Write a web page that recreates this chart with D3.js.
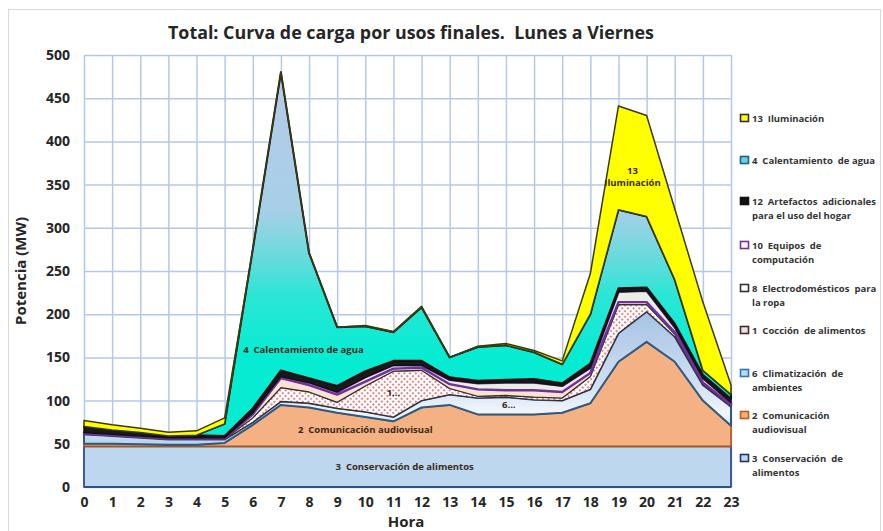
<!DOCTYPE html>
<html>
<head>
<meta charset="utf-8">
<script src="https://cdn.jsdelivr.net/npm/d3@7"></script>
<style>
  body { margin: 0; background: #fff; }
  text { font-family: "Open Sans", "DejaVu Sans", sans-serif; font-weight: bold; white-space: pre; }
</style>
</head>
<body>
<div id="chart"></div>
<script>
// horas del dia
var hours = [0, 1, 2, 3, 4, 5, 6, 7, 8, 9, 10, 11, 12, 13, 14, 15, 16, 17, 18, 19, 20, 21, 22, 23];
var yTicks = [0, 50, 100, 150, 200, 250, 300, 350, 400, 450, 500];

// potencia por uso final (MW)
var conservacion   = [47, 47, 47, 47, 47, 47, 47, 47, 47, 47, 47, 47, 47, 47, 47, 47, 47, 47, 47, 47, 47, 47, 47, 47];
var comunicacion   = [3, 3, 2.5, 2, 2, 4, 25, 48, 45, 39, 34, 29, 45, 48, 37, 37, 37, 39, 50, 98, 121, 98, 53, 24];
var climatizacion  = [11, 9, 7.5, 6, 6, 4, 3, 4, 5, 5, 6, 5, 8, 12, 19, 20, 17, 14, 16, 33, 35, 29, 18, 22];
var coccion        = [0.5, 0.5, 0.5, 0.5, 0.5, 0.5, 5, 16, 13, 7, 30, 53, 35, 7, 2, 2, 3, 3, 15, 33, 8, 3, 2, 1];
var ropa           = [0.5, 0.5, 0.5, 0.5, 0.5, 0.5, 4, 11, 8, 9, 5, 3, 3, 5, 8, 6, 8, 7, 4, 3, 3, 2, 1, 1];
var computacion    = [1, 1, 1, 1, 1, 1, 2, 2, 3, 3, 5, 4, 3, 5, 7, 9, 9, 7, 6, 12, 13, 6, 5, 3];
var artefactos     = [7, 5, 4, 2, 3, 2, 5, 7, 5, 7, 7, 5, 5, 3, 3, 3, 4, 3, 5, 4, 4, 4, 4, 4];
var calentamiento  = [0, 0, 0, 0, 0, 14, 184, 345, 145, 68, 52, 33, 62, 23, 39, 40, 31, 22, 57, 91, 82, 51, 5, 5];
var iluminacion    = [7, 6, 5, 4.5, 5, 7, 0, 0, 0, 0, 1, 1, 1, 0, 1, 2, 2, 4, 47, 120, 117, 82, 79, 11];

// orden de apilado (abajo -> arriba)
var series = [
    {key: "s3",  values: conservacion,  fill: "#bdd7ee",          stroke: "#2f4f8f", sw: 1.8, legend: ["3  Conservación  de", "alimentos"]},
    {key: "s2",  values: comunicacion,  fill: "#f4b183",          stroke: "#b5520f", sw: 1.6, legend: ["2  Comunicación", "audiovisual"]},
    {key: "s6",  values: climatizacion, fill: "url(#gradClima)",  stroke: "#2b5a86", sw: 2,   legend: ["6  Climatización  de", "ambientes"]},
    {key: "s1",  values: coccion,       fill: "url(#dots)",       stroke: "#3a2a2a", sw: 1.2, legend: ["1  Cocción  de alimentos"]},
    {key: "s8",  values: ropa,          fill: "#fbe3d2",          stroke: "#333333", sw: 1.2, legend: ["8  Electrodomésticos  para", "la ropa"]},
    {key: "s10", values: computacion,   fill: "#e8efe2",          stroke: "#7030a0", sw: 2.4, legend: ["10  Equipos  de", "computación"]},
    {key: "s12", values: artefactos,    fill: "#1a1a1a",          stroke: "#111111", sw: 1.5, legend: ["12  Artefactos  adicionales", "para el uso del hogar"]},
    {key: "s4",  values: calentamiento, fill: "url(#gradAgua)",   stroke: "#111111", sw: 2,   legend: ["4  Calentamiento  de agua"]},
    {key: "s13", values: iluminacion,   fill: "#ffff00",          stroke: "#3a3a10", sw: 1.5, legend: ["13  Iluminación"]}
];

// marcadores de leyenda (arriba -> abajo)
var legendY = [118, 160, 201, 245, 288, 330, 373, 415, 458];
var legendMarks = {
    s13: {fill: "#ffff00", stroke: "#333"},
    s4:  {fill: "#5fd8e0", stroke: "#2b5a86"},
    s12: {fill: "#111", stroke: "#111"},
    s10: {fill: "#fff", stroke: "#7030a0"},
    s8:  {fill: "#fff", stroke: "#333"},
    s1:  {fill: "#f8dede", stroke: "#333"},
    s6:  {fill: "#bdd7ee", stroke: "#2e75b6"},
    s2:  {fill: "#f4b183", stroke: "#c55a11"},
    s3:  {fill: "#bdd7ee", stroke: "#1f3864"}
};

function init(){
    var w = 883;
    var h = 531;

    var x = d3.scaleLinear()
                .domain([0, 23])
                .range([84, 731]);

    var y = d3.scaleLinear()
                .domain([0, 500])
                .range([487, 55]);

    var svg = d3.select("#chart")
                .append("svg")
                .attr("width", w)
                .attr("height", h);

    var defs = svg.append("defs");

    // relleno punteado para coccion
    var pat = defs.append("pattern")
        .attr("id", "dots")
        .attr("patternUnits", "userSpaceOnUse")
        .attr("width", 4)
        .attr("height", 4)
        .attr("patternTransform", "rotate(45)");
    pat.append("rect").attr("width", 4).attr("height", 4).attr("fill", "#fff");
    pat.append("circle").attr("cx", 2).attr("cy", 2).attr("r", 1).attr("fill", "#e0585c");

    // degradado del calentamiento de agua
    var gA = defs.append("linearGradient")
        .attr("id", "gradAgua")
        .attr("gradientUnits", "userSpaceOnUse")
        .attr("x1", 0).attr("x2", 0)
        .attr("y1", y(480)).attr("y2", y(150));
    [[0, "#b6c9ea"], [0.48, "#a7d0e7"], [0.64, "#6cd9de"], [0.78, "#2ce6d6"], [1, "#05ecd2"]].forEach(function(s) {
        gA.append("stop").attr("offset", s[0]).attr("stop-color", s[1]);
    });

    // degradado de climatizacion
    var gC = defs.append("linearGradient")
        .attr("id", "gradClima")
        .attr("gradientUnits", "userSpaceOnUse")
        .attr("x1", 0).attr("x2", 0)
        .attr("y1", y(205)).attr("y2", y(48));
    [[0, "#a5c2e4"], [0.55, "#d0e0f2"], [0.76, "#f1f6fc"], [0.9, "#cfe0f2"], [1, "#b6cfea"]].forEach(function(s) {
        gC.append("stop").attr("offset", s[0]).attr("stop-color", s[1]);
    });

    // marco exterior
    svg.append("rect")
        .attr("x", 8.5).attr("y", 9.5)
        .attr("width", 872).attr("height", 530)
        .attr("fill", "none")
        .attr("stroke", "#d9d9d9");

    // rejilla
    svg.append("g")
        .attr("transform", "translate(0, 55)")
        .call(d3.axisBottom(x).tickValues(hours).tickSize(487 - 55).tickFormat(""))
        .call(function(g) {
            g.select(".domain").remove();
            g.selectAll("line").attr("stroke", "#b4c9e6").attr("stroke-width", 1.5);
        });

    svg.append("g")
        .attr("transform", "translate(84, 0)")
        .call(d3.axisRight(y).tickValues(yTicks).tickSize(731 - 84).tickFormat(""))
        .call(function(g) {
            g.select(".domain").remove();
            g.selectAll("line").attr("stroke", "#b4c9e6").attr("stroke-width", 1.5);
        });

    // datos apilados
    var table = hours.map(function(hr, i) {
        var row = {hour: hr};
        series.forEach(function(s) { row[s.key] = s.values[i]; });
        return row;
    });

    var stack = d3.stack().keys(series.map(function(s) { return s.key; }));
    var layers = stack(table);

    var area = d3.area()
        .x(function(d) { return x(d.data.hour); })
        .y0(function(d) { return y(d[0]); })
        .y1(function(d) { return y(d[1]); });

    svg.selectAll("path.layer")
        .data(layers)
        .enter()
        .append("path")
        .attr("class", "layer")
        .attr("d", area)
        .attr("fill", function(d, i) { return series[i].fill; })
        .attr("stroke", function(d, i) { return series[i].stroke; })
        .attr("stroke-width", function(d, i) { return series[i].sw; })
        .attr("stroke-linejoin", "round");

    // etiquetas dentro del grafico
    var inner = [
        {t: "13", hx: 19.5, v: 362},
        {t: "Iluminación", hx: 19.5, v: 348},
        {t: "4  Calentamiento de agua", hx: 7.8, v: 155},
        {t: "1...", hx: 11.0, v: 105},
        {t: "6...", hx: 15.1, v: 92},
        {t: "2  Comunicación audiovisual", hx: 10.0, v: 62},
        {t: "3  Conservación de alimentos", hx: 11.4, v: 20}
    ];
    svg.selectAll("text.inner")
        .data(inner)
        .enter()
        .append("text")
        .attr("class", "inner")
        .attr("x", function(d) { return x(d.hx); })
        .attr("y", function(d) { return y(d.v); })
        .attr("text-anchor", "middle")
        .attr("font-size", 9.5)
        .attr("fill", "#3a2a1a")
        .text(function(d) { return d.t; });

    // ejes
    var yAxis = d3.axisLeft(y).tickValues(yTicks).tickSize(0).tickPadding(14);
    svg.append("g")
        .attr("transform", "translate(84, 0)")
        .call(yAxis)
        .call(function(g) {
            g.select(".domain").remove();
            g.selectAll("text").attr("font-size", 14).attr("fill", "#262626")
                .style("font-family", "'Open Sans', sans-serif").style("font-weight", "bold");
        });

    var xAxis = d3.axisBottom(x).tickValues(hours).tickSize(0).tickPadding(10);
    svg.append("g")
        .attr("transform", "translate(0, 487)")
        .call(xAxis)
        .call(function(g) {
            g.select(".domain").remove();
            g.selectAll("text").attr("font-size", 14).attr("fill", "#262626")
                .style("font-family", "'Open Sans', sans-serif").style("font-weight", "bold");
        });

    // titulos
    svg.append("text")
        .attr("x", 411)
        .attr("y", 39)
        .attr("text-anchor", "middle")
        .attr("font-size", 17)
        .attr("fill", "#262626")
        .attr("textLength", 486)
        .attr("lengthAdjust", "spacingAndGlyphs")
        .text("Total: Curva de carga por usos finales.  Lunes a Viernes");

    svg.append("text")
        .attr("transform", "translate(26, 271) rotate(-90)")
        .attr("text-anchor", "middle")
        .attr("font-size", 15)
        .attr("fill", "#262626")
        .text("Potencia (MW)");

    svg.append("text")
        .attr("x", 406)
        .attr("y", 527)
        .attr("text-anchor", "middle")
        .attr("font-size", 15)
        .attr("fill", "#262626")
        .text("Hora");

    // leyenda
    var legendOrder = series.slice().reverse();
    var lg = svg.selectAll("g.legend")
        .data(legendOrder)
        .enter()
        .append("g")
        .attr("class", "legend")
        .attr("transform", function(d, i) { return "translate(740, " + legendY[i] + ")"; });

    lg.append("rect")
        .attr("x", 0.5).attr("y", -3.5)
        .attr("width", 8).attr("height", 7)
        .attr("fill", function(d) { return legendMarks[d.key].fill; })
        .attr("stroke", function(d) { return legendMarks[d.key].stroke; })
        .attr("stroke-width", 1.6);

    lg.each(function(d) {
        var g = d3.select(this);
        d.legend.forEach(function(line, j) {
            g.append("text")
                .attr("x", 12)
                .attr("y", 3.5 + j * 14)
                .attr("font-size", 9.5)
                .attr("fill", "#333")
                .text(line);
        });
    });
}
window.onload = init;
</script>
</body>
</html>
